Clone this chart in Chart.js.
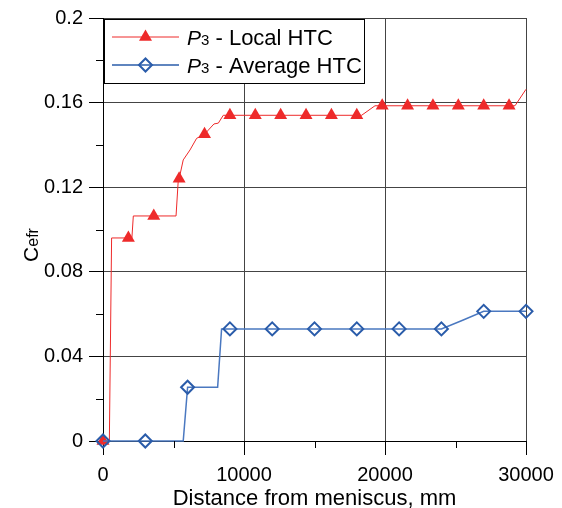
<!DOCTYPE html>
<html lang="en">
<head>
<meta charset="UTF-8">
<title>Cefr vs distance from meniscus</title>
<style>
    body{ margin:0; background:#fff; }
</style>
</head>
<body>
<canvas id="chart1" width="562" height="508"></canvas>
<script src="https://cdn.jsdelivr.net/npm/chart.js@4.4.1/dist/chart.umd.min.js"></script>
<script>
    // P3 - Local HTC : line vertices, and the x where a triangle is drawn
    const localX = [0, 450, 610, 1800, 2050, 2150, 3600, 5180, 5340, 5400, 5690, 6170, 6640, 7200, 7470, 7870, 8180, 8530,
                    9000, 10800, 12600, 14400, 16200, 18000, 18340, 19290, 19800, 21600, 23400, 25200, 27000, 28800, 29220, 30000];
    const localY = [0, 0, 0.096, 0.096, 0.096, 0.1064, 0.1064, 0.1064, 0.1235, 0.124, 0.1329, 0.1376, 0.1431, 0.145, 0.147, 0.1499, 0.1503, 0.154,
                    0.154, 0.154, 0.154, 0.154, 0.154, 0.154, 0.154, 0.1585, 0.1585, 0.1585, 0.1585, 0.1585, 0.1585, 0.1585, 0.1585, 0.1663];
    const localMarks = [0, 1800, 3600, 5400, 7200, 9000, 10800, 12600, 14400, 16200, 18000, 19800, 21600, 23400, 25200, 27000, 28800];

    // P3 - Average HTC
    const avgX = [0, 3000, 5690, 6000, 8130, 8410, 9000, 12000, 15000, 18000, 21000, 24000, 25550, 27000, 30000];
    const avgY = [0, 0, 0, 0.0254, 0.0254, 0.053, 0.053, 0.053, 0.053, 0.053, 0.053, 0.053, 0.0572, 0.0613, 0.0613];
    const avgMarks = [0, 3000, 6000, 9000, 12000, 15000, 18000, 21000, 24000, 27000, 30000];

    // minor tick positions
    const minorX = [5000, 15000, 25000];
    const minorY = [0.02, 0.06, 0.10, 0.14, 0.18];

    const RED = '#ee2a2a';
    const BLUE = '#2a5caa';
    const FONT = "'Liberation Sans', Arial, sans-serif";

    function toPoints(xs, ys){
        return xs.map((v, i) => ({x: v, y: ys[i]}));
    }

    // legend, axis titles and minor ticks
    const extras = {
        id: 'extras',
        afterDraw(chart){
            const ctx = chart.ctx;
            const sx = chart.scales.x;
            const sy = chart.scales.y;
            ctx.save();

            ctx.strokeStyle = '#000';
            ctx.lineWidth = 1;
            ctx.beginPath();
            minorX.forEach(v => {
                const px = Math.round(sx.getPixelForValue(v)) + 0.5;
                ctx.moveTo(px, sy.bottom);
                ctx.lineTo(px, sy.bottom + 7);
            });
            minorY.forEach(v => {
                const py = Math.round(sy.getPixelForValue(v)) + 0.5;
                ctx.moveTo(sx.left, py);
                ctx.lineTo(sx.left - 7, py);
            });
            ctx.stroke();

            // legend box
            ctx.fillStyle = '#fff';
            ctx.fillRect(104.5, 19.5, 260, 64);
            ctx.strokeStyle = '#000';
            ctx.strokeRect(104.5, 19.5, 260, 64);

            const rows = [
                {y: 37, color: RED, style: 'triangle', radius: 7.5, fill: RED, border: 0, lw: 1, name: ' - Local HTC'},
                {y: 65, color: BLUE, style: 'rectRot', radius: 6.5, fill: 'rgba(0,0,0,0)', border: 2, lw: 1.5, name: ' - Average HTC'}
            ];
            rows.forEach(r => {
                ctx.strokeStyle = r.color;
                ctx.lineWidth = r.lw;
                ctx.beginPath();
                ctx.moveTo(112, r.y);
                ctx.lineTo(179, r.y);
                ctx.stroke();
                ctx.fillStyle = r.fill;
                ctx.lineWidth = r.border;
                Chart.helpers.drawPoint(ctx, {pointStyle: r.style, radius: r.radius, rotation: 0, borderWidth: r.border}, 145.5, r.y);

                ctx.fillStyle = '#000';
                ctx.textBaseline = 'alphabetic';
                let tx = 187;
                const base = r.y + 8;
                ctx.font = 'italic 21px ' + FONT;
                ctx.fillText('P', tx, base);
                tx += ctx.measureText('P').width;
                ctx.font = '15px ' + FONT;
                ctx.fillText('3', tx, base);
                tx += ctx.measureText('3').width;
                ctx.font = '22px ' + FONT;
                ctx.fillText(r.name, tx, base);
            });

            // x title
            ctx.fillStyle = '#000';
            ctx.font = '22px ' + FONT;
            ctx.textAlign = 'center';
            ctx.textBaseline = 'alphabetic';
            ctx.fillText('Distance from meniscus, mm', (sx.left + sx.right) / 2, 505);

            // y title, rotated
            ctx.translate(38, 245);
            ctx.rotate(-Math.PI / 2);
            ctx.textAlign = 'left';
            ctx.font = '21px ' + FONT;
            const wC = ctx.measureText('C').width;
            ctx.font = '16px ' + FONT;
            const wE = ctx.measureText('efr').width;
            let ty = -(wC + wE) / 2;
            ctx.font = '21px ' + FONT;
            ctx.fillText('C', ty, 0);
            ctx.font = '16px ' + FONT;
            ctx.fillText('efr', ty + wC, 0);

            ctx.restore();
        }
    };

    new Chart(document.getElementById('chart1'), {
        type: 'line',
        data: {
            datasets: [
                {
                    label: 'P3 - Average HTC',
                    data: toPoints(avgX, avgY),
                    borderColor: '#4a78c0',
                    borderWidth: 1.5,
                    pointStyle: 'rectRot',
                    pointRadius: c => avgMarks.includes(c.raw.x) ? 6.5 : 0,
                    pointBorderColor: BLUE,
                    pointBackgroundColor: 'rgba(0,0,0,0)',
                    pointBorderWidth: 2,
                    tension: 0,
                    clip: false
                },
                {
                    label: 'P3 - Local HTC',
                    data: toPoints(localX, localY),
                    borderColor: RED,
                    borderWidth: 1,
                    pointStyle: 'triangle',
                    pointRadius: c => localMarks.includes(c.raw.x) ? 7.5 : 0,
                    pointBorderColor: RED,
                    pointBackgroundColor: RED,
                    pointBorderWidth: 0,
                    tension: 0,
                    clip: false
                }
            ]
        },
        options: {
            responsive: false,
            devicePixelRatio: 1,
            animation: false,
            events: [],
            layout: { padding: { top: 18, right: 36, left: 0, bottom: 0 } },
            plugins: {
                legend: { display: false },
                tooltip: { enabled: false }
            },
            scales: {
                x: {
                    type: 'linear',
                    min: 0,
                    max: 30000,
                    afterFit: s => { s.height = 67; },
                    ticks: {
                        stepSize: 10000,
                        padding: 8,
                        color: '#000',
                        font: { family: FONT, size: 20 },
                        maxRotation: 0,
                        callback: v => String(v)
                    },
                    grid: { color: '#444', tickColor: '#000', tickLength: 14, lineWidth: 1 },
                    border: { color: '#000', width: 1 }
                },
                y: {
                    min: 0,
                    max: 0.2,
                    afterFit: s => { s.width = 103; },
                    ticks: {
                        stepSize: 0.04,
                        padding: 6,
                        color: '#000',
                        font: { family: FONT, size: 20 },
                        callback: v => String(Number(v.toFixed(2)))
                    },
                    grid: { color: '#444', tickColor: '#000', tickLength: 14, lineWidth: 1 },
                    border: { color: '#000', width: 1 }
                }
            }
        },
        plugins: [extras]
    });
</script>
</body>
</html>
